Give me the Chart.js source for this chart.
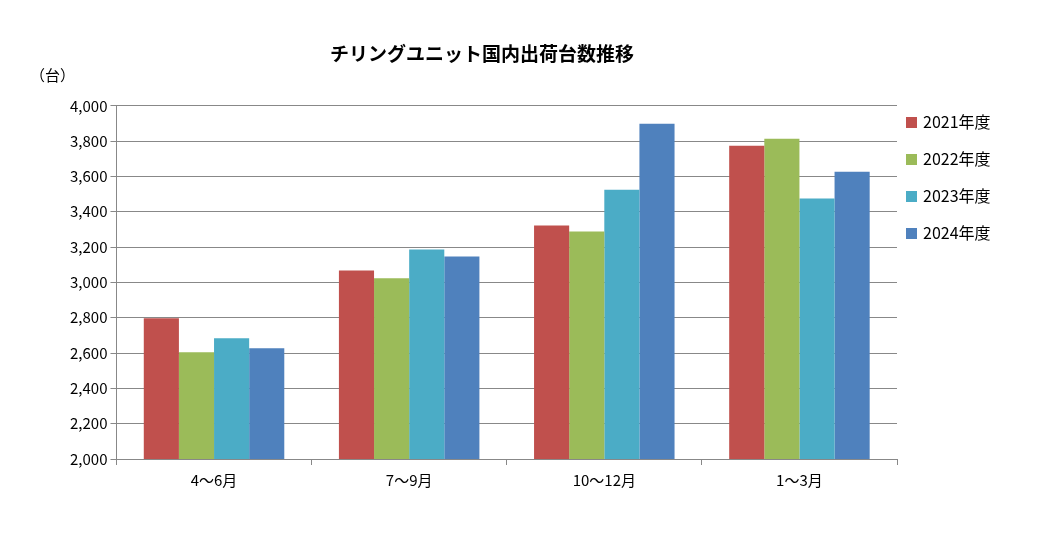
<!DOCTYPE html>
<html><head><meta charset="utf-8">
<script src="https://cdn.jsdelivr.net/npm/chart.js@4"></script>
<style>body{margin:0;background:#fff}#wrap{position:relative;width:1052px;height:559px}
#unit{position:absolute;left:30px;top:64px;font:15px "Noto Sans CJK JP";color:#000}
#legend{position:absolute;left:906px;top:110px;font:16px "Noto Sans CJK JP";color:#000}
#legend div{height:37px;line-height:22px}
#legend span{display:inline-block;width:11px;height:11px;margin-right:6px}</style>
</head><body>
<div id="wrap"><canvas id="c" width="1052" height="559"></canvas><div id="unit">（台）</div><div id="legend"></div></div>
<script>
const categories = ["4～6月", "7～9月", "10～12月", "1～3月"];
const seriesNames = ["2021年度", "2022年度", "2023年度", "2024年度"];
const fy2021 = [2797, 3068, 3322, 3774];
const fy2022 = [2605, 3023, 3288, 3814];
const fy2023 = [2684, 3186, 3525, 3475];
const fy2024 = [2627, 3147, 3898, 3627];
const colors = ["#C0504D", "#9BBB59", "#4BACC6", "#4F81BD"];
const font = "'Noto Sans CJK JP', 'Liberation Sans', sans-serif";

document.getElementById("legend").innerHTML = seriesNames.map((n, i) =>
    `<div><span style="background:${colors[i]}"></span>${n}</div>`).join("");

new Chart(document.getElementById("c"), {
    type: "bar",
    data: {
        labels: categories,
        datasets: [fy2021, fy2022, fy2023, fy2024].map((d, i) => ({
            label: seriesNames[i], data: d, backgroundColor: colors[i],
            barPercentage: 1, categoryPercentage: 0.72
        }))
    },
    options: {
        responsive: false, animation: false,
        layout: { padding: { left: 67, right: 155, top: 10, bottom: 64 } },
        plugins: {
            title: { display: true, text: "チリングユニット国内出荷台数推移", color: "#000",
                font: { family: font, size: 19, weight: "bold" }, padding: { top: 32, bottom: 41 } },
            legend: { display: false },
            tooltip: { enabled: false }
        },
        scales: {
            x: { grid: { display: true, drawOnChartArea: false, color: "#888", tickLength: 6, offset: true },
                border: { color: "#888" },
                ticks: { color: "#000", font: { family: font, size: 15 }, padding: 6 } },
            y: { min: 2000, max: 4000,
                grid: { color: "#888", tickLength: 6 }, border: { color: "#888" },
                ticks: { stepSize: 200, color: "#000", font: { family: font, size: 15 },
                    callback: v => v.toLocaleString("en-US") } }
        }
    }
});
</script>
</body></html>
